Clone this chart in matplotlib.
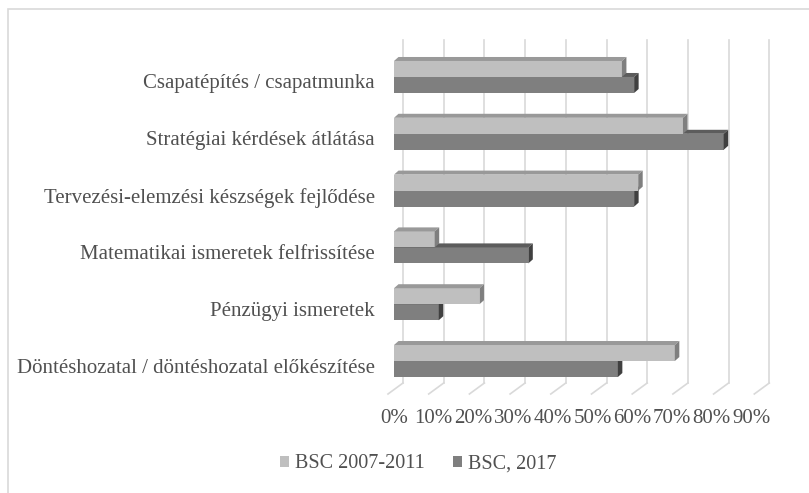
import matplotlib.pyplot as plt
from matplotlib.patches import Polygon, Rectangle

categories = [
    "Csapatépítés / csapatmunka",
    "Stratégiai kérdések átlátása",
    "Tervezési-elemzési készségek fejlődése",
    "Matematikai ismeretek felfrissítése",
    "Pénzügyi ismeretek",
    "Döntéshozatal / döntéshozatal előkészítése",
]
series_names = ["BSC 2007-2011", "BSC, 2017"]
bsc_2007_2011 = [56, 71, 60, 10, 21, 69]
bsc_2017 = [59, 81, 59, 33, 11, 55]
x_ticks = [0, 10, 20, 30, 40, 50, 60, 70, 80, 90]
x_tick_labels = ["0%", "10%", "20%", "30%", "40%", "50%", "60%", "70%", "80%", "90%"]

plt.rcParams['font.family'] = ['Liberation Serif', 'DejaVu Serif']
text_color = '#505050'
fs = 15

W, H = 809, 493
fig = plt.figure(figsize=(W / 100, H / 100), dpi=100)

# axes = front plane of the 3D box (pixel positions from the reference)
x0, x1 = 394, 394 + 9 * 40.7
y_top, y_bot = 40, 393
ax = fig.add_axes([x0 / W, 1 - y_bot / H, (x1 - x0) / W, (y_bot - y_top) / H])
ax.set_xlim(0, 90)
ax.set_ylim(5.563, -0.651)
ax.set_axis_off()

# pixel -> data helpers for the depth offsets
px_x = 90 / (x1 - x0)
px_y = (5.563 + 0.651) / (y_bot - y_top)

# outer frame
fig.add_artist(Rectangle((8 / W, -0.1), 1.2, 1 - 9 / H + 0.1, transform=fig.transFigure,
                         fill=False, edgecolor='#d9d9d9', linewidth=1.2))

# gridlines on the back wall, with floor diagonal to the front
gx_back = 9 * px_x
floor_y = 383
for t in x_ticks:
    xb = t + gx_back
    yb_floor = (floor_y - y_top) * px_y - 0.651
    ax.plot([xb, xb], [-0.651, yb_floor], color='#d9d9d9', lw=1.2, zorder=1, clip_on=False)
    ax.plot([xb, xb - 15 * px_x], [yb_floor, yb_floor + 11 * px_y], color='#d9d9d9', lw=1.2,
            zorder=1, clip_on=False)

bar_h = 16 * px_y
dx, dy = 4.5 * px_x, -4 * px_y

def bar3d(value, y_front_top, front, top, side):
    yb = y_front_top + bar_h
    ax.add_patch(Polygon([(0, y_front_top), (value, y_front_top), (value, yb), (0, yb)],
                         closed=True, facecolor=front, edgecolor='none', zorder=3))
    ax.add_patch(Polygon([(0, y_front_top), (value, y_front_top),
                          (value + dx, y_front_top + dy), (dx, y_front_top + dy)],
                         closed=True, facecolor=top, edgecolor='none', zorder=3))
    ax.add_patch(Polygon([(value, y_front_top), (value + dx, y_front_top + dy),
                          (value + dx, yb + dy), (value, yb)],
                         closed=True, facecolor=side, edgecolor='none', zorder=3))

for i, cat in enumerate(categories):
    bar3d(bsc_2017[i], i, '#7f7f7f', '#5c5c5c', '#404040')
    bar3d(bsc_2007_2011[i], i - bar_h, '#bfbfbf', '#999999', '#7f7f7f')
    ax.text(-19 * px_x, i + 7 * px_y, cat, ha='right', va='center', fontsize=fs, color=text_color)

for t, lab in zip(x_ticks, x_tick_labels):
    ax.text(t - 1 * px_x * t / 10, 5.563 + 26 * px_y, lab, ha='center', va='center',
            fontsize=fs, color=text_color, clip_on=False)

# legend
handles = [Rectangle((0, 0), 1, 1, facecolor='#bfbfbf'), Rectangle((0, 0), 1, 1, facecolor='#7f7f7f')]
fig.legend(handles, series_names, loc='center', bbox_to_anchor=(418 / W, 1 - 464 / H), ncol=2,
           frameon=False, fontsize=14.5, labelcolor=text_color, handlelength=0.45, handleheight=0.45,
           handletextpad=0.3, columnspacing=1.4)

fig.savefig('out.png', dpi=100)
